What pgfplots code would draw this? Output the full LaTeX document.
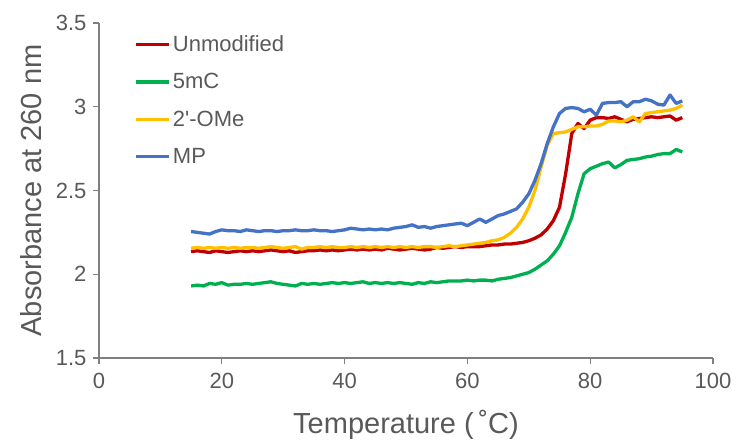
\documentclass[border=0pt]{standalone}
\usepackage{pgfplots}
\pgfplotsset{compat=1.18}
\usepackage{fontspec}
\setmainfont{Liberation Sans}
\definecolor{cRed}{HTML}{C00000}
\definecolor{cGreen}{HTML}{00B050}
\definecolor{cYellow}{HTML}{FFC000}
\definecolor{cBlue}{HTML}{4472C4}
\definecolor{axgray}{HTML}{7F7F7F}
\definecolor{txt}{HTML}{595959}
\begin{document}
\begin{tikzpicture}
  \begin{axis}[
    scale only axis, width=614pt, height=335pt,
    xmin=0, xmax=100, ymin=1.5, ymax=3.5,
    xtick={0,20,...,100}, ytick={1.5,2,2.5,3,3.5},
    axis x line=bottom, axis y line=left,
    axis line style={-, axgray, line width=1.2pt},
    tick align=outside, major tick length=6pt,
    tick style={axgray, line width=1.2pt},
    /pgf/number format/assume math mode=true,
    ticklabel style={font=\fontsize{22}{24}\selectfont, text=txt},
    yticklabel style={xshift=-3pt},
    xticklabel style={yshift=-6pt},
    xlabel={Temperature (\,˚C)}, ylabel={Absorbance at 260 nm},
    label style={font=\fontsize{29}{32}\selectfont, text=txt},
    xlabel style={at={(axis description cs:0.5,-0.2)}, anchor=center},
    ylabel style={at={(axis description cs:-0.1107,0.5)}, anchor=center},
    legend style={at={(0.053,0.975)}, anchor=north west, draw=none, fill=none,
      font=\fontsize{22}{24}\selectfont, text=txt, row sep=16.5pt},
    legend cell align=left,
    legend image code/.code={\draw[#1, line width=3.2pt] (0pt,0pt) -- (33pt,0pt);},
    every axis plot/.append style={line width=3.3pt, line join=round},
  ]
  \addplot[cRed] coordinates {
    (15,2.135)(16,2.14)(17,2.135)(18,2.13)(19,2.14)(20,2.135)(21,2.13)(22,2.135)(23,2.14)(24,2.135)
    (25,2.14)(26,2.135)(27,2.14)(28,2.145)(29,2.14)(30,2.135)(31,2.14)(32,2.13)(33,2.135)(34,2.14)
    (35,2.14)(36,2.145)(37,2.14)(38,2.145)(39,2.14)(40,2.145)(41,2.15)(42,2.145)(43,2.15)(44,2.145)
    (45,2.15)(46,2.145)(47,2.155)(48,2.15)(49,2.145)(50,2.15)(51,2.155)(52,2.15)(53,2.145)(54,2.15)
    (55,2.16)(56,2.155)(57,2.16)(58,2.165)(59,2.16)(60,2.165)(61,2.165)(62,2.165)(63,2.17)(64,2.175)
    (65,2.175)(66,2.18)(67,2.18)(68,2.185)(69,2.19)(70,2.2)(71,2.215)(72,2.235)(73,2.27)(74,2.32)
    (75,2.4)(76,2.6)(77,2.84)(78,2.9)(79,2.87)(80,2.92)(81,2.935)(82,2.935)(83,2.93)(84,2.94)
    (85,2.925)(86,2.91)(87,2.925)(88,2.93)(89,2.935)(90,2.94)(91,2.935)(92,2.94)(93,2.945)(94,2.92)(95,2.935)
  };
  \addplot[cGreen] coordinates {
    (15,1.93)(16,1.935)(17,1.93)(18,1.945)(19,1.94)(20,1.95)(21,1.935)(22,1.94)(23,1.94)(24,1.945)
    (25,1.94)(26,1.945)(27,1.95)(28,1.955)(29,1.945)(30,1.94)(31,1.935)(32,1.93)(33,1.945)(34,1.94)
    (35,1.945)(36,1.94)(37,1.945)(38,1.95)(39,1.945)(40,1.95)(41,1.945)(42,1.95)(43,1.955)(44,1.945)
    (45,1.95)(46,1.945)(47,1.95)(48,1.945)(49,1.95)(50,1.945)(51,1.94)(52,1.95)(53,1.945)(54,1.955)
    (55,1.95)(56,1.955)(57,1.96)(58,1.96)(59,1.96)(60,1.965)(61,1.96)(62,1.965)(63,1.965)(64,1.96)
    (65,1.97)(66,1.975)(67,1.98)(68,1.99)(69,2.0)(70,2.01)(71,2.03)(72,2.055)(73,2.08)(74,2.12)
    (75,2.17)(76,2.25)(77,2.34)(78,2.48)(79,2.6)(80,2.63)(81,2.645)(82,2.66)(83,2.67)(84,2.635)
    (85,2.655)(86,2.68)(87,2.685)(88,2.69)(89,2.7)(90,2.705)(91,2.715)(92,2.72)(93,2.72)(94,2.745)(95,2.73)
  };
  \addplot[cYellow] coordinates {
    (15,2.155)(16,2.16)(17,2.155)(18,2.16)(19,2.155)(20,2.16)(21,2.155)(22,2.16)(23,2.155)(24,2.16)
    (25,2.16)(26,2.155)(27,2.16)(28,2.165)(29,2.16)(30,2.155)(31,2.16)(32,2.165)(33,2.15)(34,2.16)
    (35,2.16)(36,2.165)(37,2.16)(38,2.165)(39,2.16)(40,2.16)(41,2.165)(42,2.16)(43,2.165)(44,2.16)
    (45,2.165)(46,2.16)(47,2.165)(48,2.16)(49,2.165)(50,2.16)(51,2.165)(52,2.16)(53,2.165)(54,2.165)
    (55,2.16)(56,2.165)(57,2.17)(58,2.165)(59,2.17)(60,2.175)(61,2.18)(62,2.185)(63,2.19)(64,2.2)
    (65,2.205)(66,2.22)(67,2.245)(68,2.28)(69,2.33)(70,2.4)(71,2.5)(72,2.64)(73,2.77)(74,2.84)
    (75,2.845)(76,2.85)(77,2.865)(78,2.88)(79,2.88)(80,2.885)(81,2.885)(82,2.895)(83,2.915)(84,2.915)
    (85,2.91)(86,2.92)(87,2.94)(88,2.91)(89,2.96)(90,2.965)(91,2.97)(92,2.975)(93,2.98)(94,2.99)(95,3.01)
  };
  \addplot[cBlue] coordinates {
    (15,2.255)(16,2.25)(17,2.245)(18,2.24)(19,2.255)(20,2.265)(21,2.26)(22,2.26)(23,2.255)(24,2.265)
    (25,2.26)(26,2.255)(27,2.26)(28,2.26)(29,2.255)(30,2.26)(31,2.26)(32,2.265)(33,2.26)(34,2.26)
    (35,2.265)(36,2.26)(37,2.26)(38,2.255)(39,2.26)(40,2.265)(41,2.275)(42,2.27)(43,2.265)(44,2.27)
    (45,2.265)(46,2.27)(47,2.265)(48,2.275)(49,2.28)(50,2.285)(51,2.295)(52,2.28)(53,2.285)(54,2.275)
    (55,2.285)(56,2.29)(57,2.295)(58,2.3)(59,2.305)(60,2.29)(61,2.31)(62,2.33)(63,2.31)(64,2.33)
    (65,2.35)(66,2.36)(67,2.375)(68,2.39)(69,2.43)(70,2.48)(71,2.56)(72,2.66)(73,2.78)(74,2.88)
    (75,2.96)(76,2.99)(77,2.995)(78,2.99)(79,2.97)(80,2.985)(81,2.95)(82,3.02)(83,3.025)(84,3.025)
    (85,3.03)(86,3.0)(87,3.03)(88,3.03)(89,3.045)(90,3.035)(91,3.015)(92,3.01)(93,3.07)(94,3.02)(95,3.035)
  };
  \legend{Unmodified, 5mC, 2\textquotesingle-OMe, MP}
  \end{axis}
  \path[use as bounding box] ([xshift=-99pt,yshift=-84pt]current axis.south west)
    rectangle ([xshift=25pt,yshift=23pt]current axis.north east);
\end{tikzpicture}
\end{document}
